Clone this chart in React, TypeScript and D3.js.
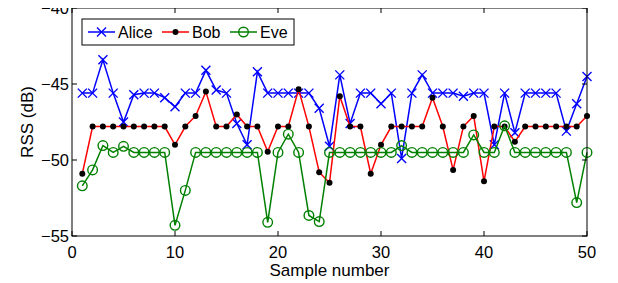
import React, { useEffect, useRef } from "react";
import * as d3 from "d3";

// sample index 1..50
const samples = d3.range(1, 51);

const alice = [
  -45.6, -45.6, -43.4, -45.6, -47.5, -45.7, -45.6, -45.6, -45.9, -46.5,
  -45.6, -45.6, -44.1, -45.4, -45.6, -47.6, -49.0, -44.2, -45.6, -45.6,
  -45.6, -45.6, -45.6, -46.6, -49.1, -44.4, -47.6, -45.6, -45.6, -46.3,
  -45.6, -49.9, -45.6, -44.4, -45.6, -45.6, -45.6, -45.8, -45.6, -45.6,
  -49.0, -45.6, -48.2, -45.6, -45.6, -45.6, -45.6, -48.1, -46.3, -44.5,
];

const bob = [
  -50.9, -47.8, -47.8, -47.8, -47.8, -47.8, -47.8, -47.8, -47.8, -49.0,
  -47.8, -47.1, -45.5, -47.8, -47.8, -47.0, -47.8, -47.8, -49.45, -47.8,
  -47.8, -45.35, -47.8, -50.8, -51.5, -45.8, -47.8, -47.8, -50.9, -49.0,
  -47.8, -47.8, -47.8, -47.8, -45.9, -47.8, -50.65, -47.8, -47.1, -51.4,
  -47.8, -47.8, -48.8, -47.8, -47.8, -47.8, -47.8, -47.8, -47.8, -47.1,
];

const eve = [
  -51.7, -50.65, -49.05, -49.5, -49.1, -49.5, -49.5, -49.5, -49.5, -54.3,
  -52.0, -49.5, -49.5, -49.5, -49.5, -49.5, -49.5, -49.5, -54.1, -49.5,
  -48.3, -49.5, -53.65, -54.05, -49.5, -49.5, -49.5, -49.5, -49.5, -49.5,
  -49.5, -49.05, -49.5, -49.5, -49.5, -49.5, -49.5, -49.5, -48.35, -49.5,
  -49.5, -47.75, -49.5, -49.5, -49.5, -49.5, -49.5, -49.5, -52.8, -49.5,
];

const xTicks = [0, 10, 20, 30, 40, 50];
const yTicks = [-40, -45, -50, -55];

const seriesNames = ["Alice", "Bob", "Eve"];

const W = 618;
const H = 283;

const App = () => {
  const ref = useRef<SVGSVGElement>(null);

  useEffect(() => {
    const svg = d3.select(ref.current);
    svg.selectAll("*").remove();

    const left = 72, right = 587, top = 8, bottom = 236;
    const x = d3.scaleLinear().domain([0, 50]).range([left, right]);
    const y = d3.scaleLinear().domain([-55, -40]).range([bottom, top]);
    const font = "'Liberation Sans', Arial, sans-serif";

    svg.append("rect").attr("width", W).attr("height", H).attr("fill", "#fff");

    const series = [
      { name: seriesNames[0], values: alice, color: "#0000ff", marker: "x" },
      { name: seriesNames[1], values: bob, color: "#ff0000", marker: "dot" },
      { name: seriesNames[2], values: eve, color: "#008000", marker: "circle" },
    ];

    const drawMarker = (g: any, type: string, cx: number, cy: number, color: string) => {
      if (type === "x") {
        const s = 4.5;
        g.append("path")
          .attr("d", `M${cx - s},${cy - s}L${cx + s},${cy + s}M${cx - s},${cy + s}L${cx + s},${cy - s}`)
          .attr("stroke", color)
          .attr("stroke-width", 1.4)
          .attr("fill", "none");
      } else if (type === "dot") {
        g.append("circle").attr("cx", cx).attr("cy", cy).attr("r", 3).attr("fill", "#000");
      } else {
        g.append("circle")
          .attr("cx", cx)
          .attr("cy", cy)
          .attr("r", 4.8)
          .attr("fill", "none")
          .attr("stroke", color)
          .attr("stroke-width", 1.4);
      }
    };

    const line = d3
      .line<number>()
      .x((d, i) => x(samples[i]))
      .y((d) => y(d));

    // draw in order Alice, Bob, Eve
    series.forEach((s) => {
      const g = svg.append("g");
      g.append("path")
        .datum(s.values)
        .attr("fill", "none")
        .attr("stroke", s.color)
        .attr("stroke-width", 1.5)
        .attr("d", line);
      s.values.forEach((v, i) => drawMarker(g, s.marker, x(samples[i]), y(v), s.color));
    });

    // axes box
    svg.append("rect")
      .attr("x", left)
      .attr("y", top)
      .attr("width", right - left)
      .attr("height", bottom - top)
      .attr("fill", "none")
      .attr("stroke", "#000")
      .attr("stroke-width", 1);

    const tl = 5;
    xTicks.forEach((t) => {
      svg.append("line").attr("x1", x(t)).attr("x2", x(t)).attr("y1", bottom).attr("y2", bottom - tl).attr("stroke", "#000");
      svg.append("line").attr("x1", x(t)).attr("x2", x(t)).attr("y1", top).attr("y2", top + tl).attr("stroke", "#000");
      svg.append("text")
        .attr("x", x(t))
        .attr("y", bottom + 22)
        .attr("text-anchor", "middle")
        .attr("font-family", font)
        .attr("font-size", 16.5)
        .text(t);
    });
    yTicks.forEach((t) => {
      svg.append("line").attr("x1", left).attr("x2", left + tl).attr("y1", y(t)).attr("y2", y(t)).attr("stroke", "#000");
      svg.append("line").attr("x1", right).attr("x2", right - tl).attr("y1", y(t)).attr("y2", y(t)).attr("stroke", "#000");
      svg.append("text")
        .attr("x", left - 3)
        .attr("y", y(t) + 6)
        .attr("text-anchor", "end")
        .attr("font-family", font)
        .attr("font-size", 16.5)
        .text(String(t).replace("-", "\u2212"));
    });

    svg.append("text")
      .attr("x", (left + right) / 2)
      .attr("y", 276)
      .attr("text-anchor", "middle")
      .attr("font-family", font)
      .attr("font-size", 17)
      .text("Sample number");

    svg.append("text")
      .attr("transform", `translate(33,${(top + bottom) / 2}) rotate(-90)`)
      .attr("text-anchor", "middle")
      .attr("font-family", font)
      .attr("font-size", 17)
      .text("RSS (dB)");

    // legend
    const lg = svg.append("g");
    lg.append("rect")
      .attr("x", 82)
      .attr("y", 19)
      .attr("width", 212)
      .attr("height", 26)
      .attr("fill", "#fff")
      .attr("stroke", "#000")
      .attr("stroke-width", 1);
    const lx = [88, 162, 230];
    series.forEach((s, i) => {
      const x0 = lx[i];
      const cy = 32;
      lg.append("line").attr("x1", x0).attr("x2", x0 + 27).attr("y1", cy).attr("y2", cy).attr("stroke", s.color).attr("stroke-width", 1.5);
      drawMarker(lg, s.marker, x0 + 13.5, cy, s.color);
      lg.append("text")
        .attr("x", x0 + 30)
        .attr("y", cy + 6)
        .attr("font-family", font)
        .attr("font-size", 16)
        .text(s.name);
    });
  }, []);

  return <svg ref={ref} width={W} height={H} style={{ display: "block", margin: "-8px 0 0 -8px" }} />;
};

export default App;
